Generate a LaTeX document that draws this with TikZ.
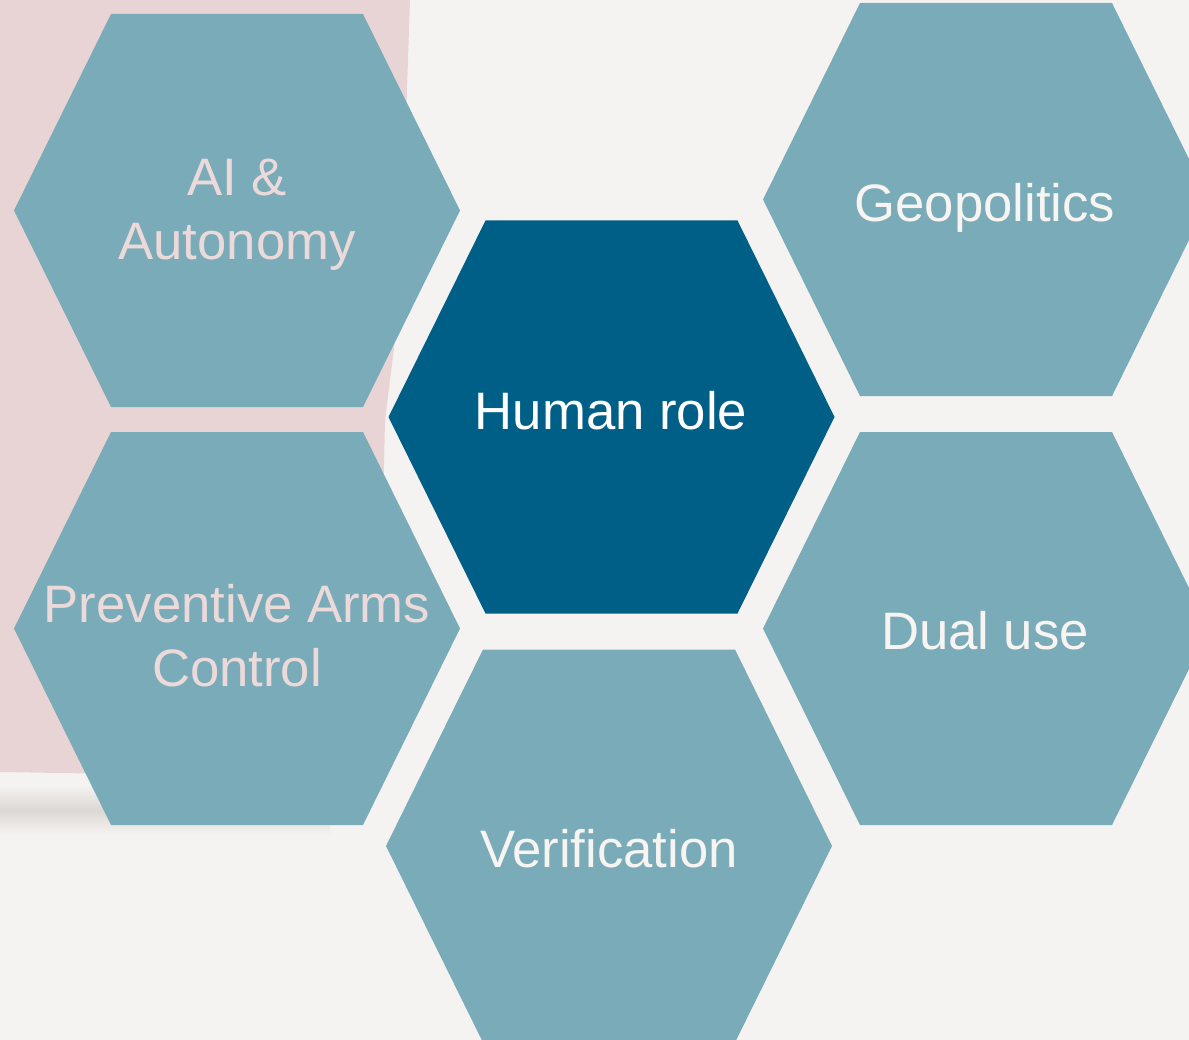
\documentclass[tikz,border=0pt]{standalone}
\usepackage{fontspec}
\setmainfont{Liberation Sans}
\usepackage{tikz}
\definecolor{hexlight}{HTML}{79ABB8}
\definecolor{hexdark}{HTML}{005F87}
\definecolor{paper}{HTML}{F5F3F1}
\definecolor{blush}{HTML}{E8D4D5}
\definecolor{shadowgrey}{HTML}{DCD8D6}
\definecolor{blushtext}{HTML}{ECDADB}
\definecolor{offwhite}{HTML}{F7F4F2}

\begin{document}
\begin{tikzpicture}[x=0.02cm,y=-0.02cm,
  lbl/.style={inner sep=0pt,align=center,font=\fontsize{30}{36.3}\selectfont,text=offwhite}]
\useasboundingbox (0,0) rectangle (1189,1040);
\clip (0,0) rectangle (1189,1040);
\fill[paper] (0,0) rectangle (1189,1040);
\fill[blush] (0,0) -- (410,0) -- (400,300) -- (385,420) -- (380,650) -- (370,765) -- (300,777) -- (0,772) -- cycle;
\shade[top color=paper,bottom color=paper,middle color=shadowgrey] (0,785) rectangle (330,835);
\coordinate (ai) at (237,210.5);
\coordinate (geo) at (986,199.5);
\coordinate (hum) at (611.5,417);
\coordinate (pac) at (237,628.5);
\coordinate (dual) at (986,628.5);
\coordinate (ver) at (609,846);
\fill[hexlight] (ai) ++(-223,0) -- ++(97,-196.5) -- ++(252,0) -- ++(97,196.5) -- ++(-97,196.5) -- ++(-252,0) -- cycle;
\fill[hexlight] (geo) ++(-223,0) -- ++(97,-196.5) -- ++(252,0) -- ++(97,196.5) -- ++(-97,196.5) -- ++(-252,0) -- cycle;
\fill[hexdark] (hum) ++(-223,0) -- ++(97,-196.5) -- ++(252,0) -- ++(97,196.5) -- ++(-97,196.5) -- ++(-252,0) -- cycle;
\fill[hexlight] (pac) ++(-223,0) -- ++(97,-196.5) -- ++(252,0) -- ++(97,196.5) -- ++(-97,196.5) -- ++(-252,0) -- cycle;
\fill[hexlight] (dual) ++(-223,0) -- ++(97,-196.5) -- ++(252,0) -- ++(97,196.5) -- ++(-97,196.5) -- ++(-252,0) -- cycle;
\fill[hexlight] (ver) ++(-223,0) -- ++(97,-196.5) -- ++(252,0) -- ++(97,196.5) -- ++(-97,196.5) -- ++(-252,0) -- cycle;
\node[lbl,text=blushtext] (aitext) at (237,215) {AI \&\\Autonomy};
\node[lbl] (geotext) at (985,208) {Geopolitics};
\node[lbl,text=white] (humtext) at (611,411) {Human role};
\node[lbl,text=blushtext] (pactext) at (237,636) {Preventive Arms\\Control};
\node[lbl] (dualtext) at (985,631) {Dual use};
\node[lbl] (vertext) at (609,849) {Verification};
\end{tikzpicture}
\end{document}
